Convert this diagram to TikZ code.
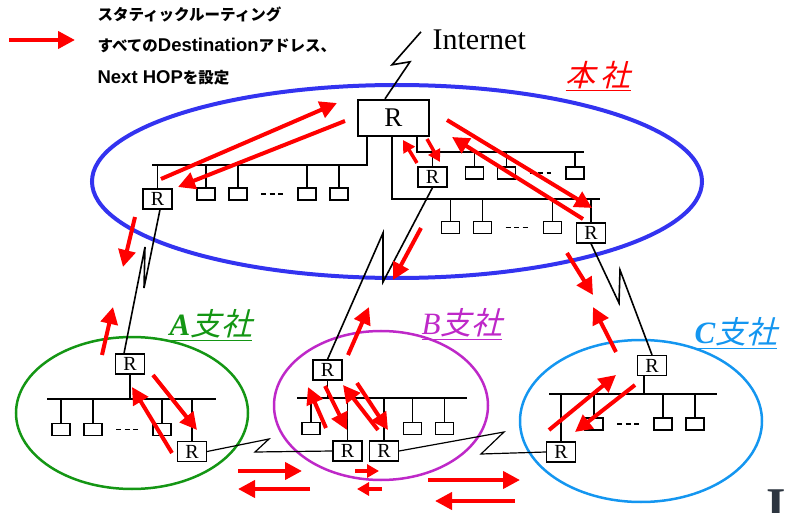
\documentclass[tikz,border=0pt]{standalone}
\usepackage{fontspec}
\usepackage{xcolor}
\setmainfont{Liberation Serif}
\newfontfamily\jpfont{Noto Sans CJK JP}
\newfontfamily\lsans{Liberation Sans}
\newfontfamily\jpslant{Noto Sans CJK JP}[FakeSlant=0.25]
\usetikzlibrary{arrows.meta,positioning}

\definecolor{hqblue}{RGB}{51,51,240}
\definecolor{agreen}{RGB}{20,150,20}
\definecolor{bpurple}{RGB}{190,40,200}
\definecolor{cblue}{RGB}{20,150,240}
\definecolor{slate}{RGB}{45,53,64}

\newcommand{\latin}[1]{{\lsans\fontsize{18.5}{18.5}\selectfont #1}}

\tikzset{
    router/.style={rectangle, draw, line width=1.2pt, minimum width=29pt, minimum height=20pt, inner sep=0pt, font=\fontsize{20}{20}\selectfont},
    mainr/.style={rectangle, draw, line width=2.4pt, minimum width=71pt, minimum height=36pt, inner sep=0pt, font=\fontsize{27}{27}\selectfont},
    pc/.style={rectangle, draw, line width=1.2pt, minimum width=18pt, minimum height=12pt, inner sep=0pt},
    gap/.style={dash pattern=on 5pt off 3.5pt, shorten <=13.5pt, shorten >=14.5pt},
    legend/.style={anchor=west, inner sep=0pt, font=\jpfont\bfseries\fontsize{15.5}{15.5}\selectfont},
    branch/.style={inner sep=0pt, font=\fontsize{31}{31}\selectfont},
    redarrow/.style={red, line width=4pt, -{Triangle[length=17pt,width=17pt]}},
    redsmall/.style={red, line width=3.5pt, -{Triangle[length=12pt,width=13pt]}},
}

\begin{document}
\begin{tikzpicture}[x=1pt, y=-1pt, node distance=32pt, line width=1.2pt]
    \useasboundingbox (0,0) rectangle (785,513);

    % sites
    \draw[hqblue, line width=4pt] (397,181.5) ellipse [x radius=305, y radius=96.5];
    \draw[agreen, line width=2.5pt] (132,413) ellipse [x radius=116, y radius=76];
    \draw[bpurple, line width=2.5pt] (381,405.5) ellipse [x radius=107, y radius=74.5];
    \draw[cblue, line width=2.5pt] (641,421) ellipse [x radius=121, y radius=81];

    % legend
    \draw[redarrow] (9,40) -- (75,40);
    \node [legend](l1) at (97,15) {スタティックルーティング};
    \node [legend](l2) at (97,45) {すべての\latin{\bfseries Destination}アドレス、};
    \node [legend](l3) at (97,78) {\latin{\bfseries Next HOP}を設定};

    % head office
    \node [mainr](1) at (393.5,118) {R};
    \node [anchor=west, inner sep=0pt, font=\fontsize{30}{30}\selectfont](0) at (432,40) {Internet};
    \node [router](2) at (157.5,199) {R};
    \node [router](3) at (432.5,177) {R};
    \node [router](4) at (591,233) {R};

    \node [pc](5) at (206,194) {};
    \node [pc](6) [right of = 5] {};
    \node [pc](7) [right of = 6, xshift=37] {};
    \node [pc](8) [right of = 7] {};

    \node [pc](10) at (450.5,227.5) {};
    \node [pc](11) [right of = 10] {};
    \node [pc](12) [right of = 11, xshift=38] {};

    \node [pc](13) at (474.5,173) {};
    \node [pc](14) [right of = 13] {};
    \node [pc](15) [right of = 14, xshift=36.5] {};

    \coordinate (b1) at (152,165);
    \coordinate (b2) at (600,199);
    \coordinate (b3) at (584,152);
    \draw ([xshift=-26.5pt]1.south) |- (b1);
    \draw ([xshift=-1.5pt]1.south) |- (b2);
    \draw ([xshift=23.5pt]1.south) |- (b3);
    \foreach \n in {2,5,6,7,8} \draw (\n.north) -- (\n.north |- b1);
    \foreach \n in {4,10,11,12} \draw (\n.north) -- (\n.north |- b2);
    \foreach \n in {3,13,14,15} \draw (\n.north) -- (\n.north |- b3);
    \draw[gap] (6.east) -- (7.west);
    \draw[gap] (11.east) -- (12.west);
    \draw[gap] (14.east) -- (15.west);

    \node [text=red, inner sep=0pt, font=\jpslant\fontsize{30}{30}\selectfont](32) at (598,76) {\underline{本\,社}};

    % A branch
    \node [router](16) at (130,364) {R};
    \node [router](17) at (192,451.5) {R};
    \node [pc](18) at (61,429.5) {};
    \node [pc](19) [right of = 18] {};
    \node [pc](20) [right of = 19, xshift=37] {};
    \coordinate (b4a) at (47,399);
    \coordinate (b4b) at (216,399);
    \draw (b4a) -- (b4b);
    \draw (16.south) -- (16.south |- b4a);
    \foreach \n in {17,18,19,20} \draw (\n.north) -- (\n.north |- b4a);
    \draw[gap] (19.east) -- (20.west);
    \node [branch, text=agreen](33) at (211,325) {\underline{\textbf{\textit{A}}\jpslant 支社}};

    % B branch
    \node [router](21) at (327.5,370) {R};
    \node [router](22) at (347.5,451) {R};
    \node [router](23) at (384,451) {R};
    \node [pc](24) at (311,428.5) {};
    \node [pc](25) at (412.5,428.5) {};
    \node [pc](26) [right of = 25] {};
    \coordinate (b5a) at (297,398);
    \coordinate (b5b) at (467,398);
    \draw (b5a) -- (b5b);
    \draw (21.south) -- (21.south |- b5a);
    \foreach \n in {22,23,24,25,26} \draw (\n.north) -- (\n.north |- b5a);
    \node [branch, text=bpurple](34) at (462,324) {\underline{\textit{B}\jpslant 支社}};

    % C branch
    \node [router](27) at (652,365.5) {R};
    \node [router](28) at (561,452) {R};
    \node [pc](29) at (594,424) {};
    \node [pc](30) at (663,424) {};
    \node [pc](31) [right of = 30] {};
    \coordinate (b6a) at (549,394);
    \coordinate (b6b) at (717,394);
    \draw (b6a) -- (b6b);
    \draw ([xshift=-8pt]27.south) -- ([xshift=-8pt]27.south |- b6a);
    \foreach \n in {28,29,30,31} \draw (\n.north) -- (\n.north |- b6a);
    \draw[gap] (29.east) -- (30.west);
    \node [branch, text=cblue](35) at (736,333) {\underline{\textbf{\textit{C}}\jpslant 支社}};

    % links
    \draw[line width=1.6pt] ([xshift=-8.5pt]1.north) -- ++(25,-37) -- ++(-18,3) -- ++(29,-33);
    \draw[line width=1.6pt] ([xshift=2.5pt]2.south) -- (144,288) -- (145,247) -- ([xshift=-6pt]16.north);
    \draw[line width=1.6pt] (3.south) -- (383,282) -- (383,233) -- (21.north);
    \draw[line width=1.6pt] (4.south) -- (619,303) -- (620,270) -- (27.north);
    \draw (17.east) -- (269,439) -- (255,452) -- (22.west);
    \draw (23.east) -- (504,432) -- (481,454) -- (28.west);

    % routes
    \draw[redarrow] (161,179) -- (337,103);
    \draw[redarrow] (345,121) -- (178,187);
    \draw[redsmall] (417,163) -- (403,140);
    \draw[redsmall] (427,139) -- (440,162);
    \draw[redarrow] (447,120) -- (592,208);
    \draw[redarrow] (583,219) -- (452,137);
    \draw[redarrow] (135,217) -- (123,267);
    \draw[redarrow] (421,228) -- (393,280);
    \draw[redarrow] (348,355) -- (369,307);
    \draw[redarrow] (102,355) -- (113,307);
    \draw[redarrow] (567,253) -- (593,295);
    \draw[redarrow] (616,352) -- (593,307);
    \draw[redarrow] (153,375) -- (197,430);
    \draw[redarrow] (172,453) -- (132,387);
    \draw[redarrow] (325,386) -- (347,430);
    \draw[redarrow] (326,428) -- (308,387);
    \draw[redarrow] (357,383) -- (388,430);
    \draw[redarrow] (378,430) -- (343,385);
    \draw[redarrow] (549,430) -- (616,375);
    \draw[redarrow] (635,385) -- (575,432);
    \draw[redarrow] (238,471) -- (302,471);
    \draw[redarrow] (310,489) -- (238,489);
    \draw[redsmall] (355,471) -- (379,471);
    \draw[redsmall] (382,489) -- (357,489);
    \draw[redarrow] (428,480) -- (520,480);
    \draw[redarrow] (515,501) -- (435,501);

    \node [text=slate, anchor=north, inner sep=0pt, font=\bfseries\fontsize{50}{50}\selectfont](36) at (776,489) {I};
\end{tikzpicture}
\end{document}
